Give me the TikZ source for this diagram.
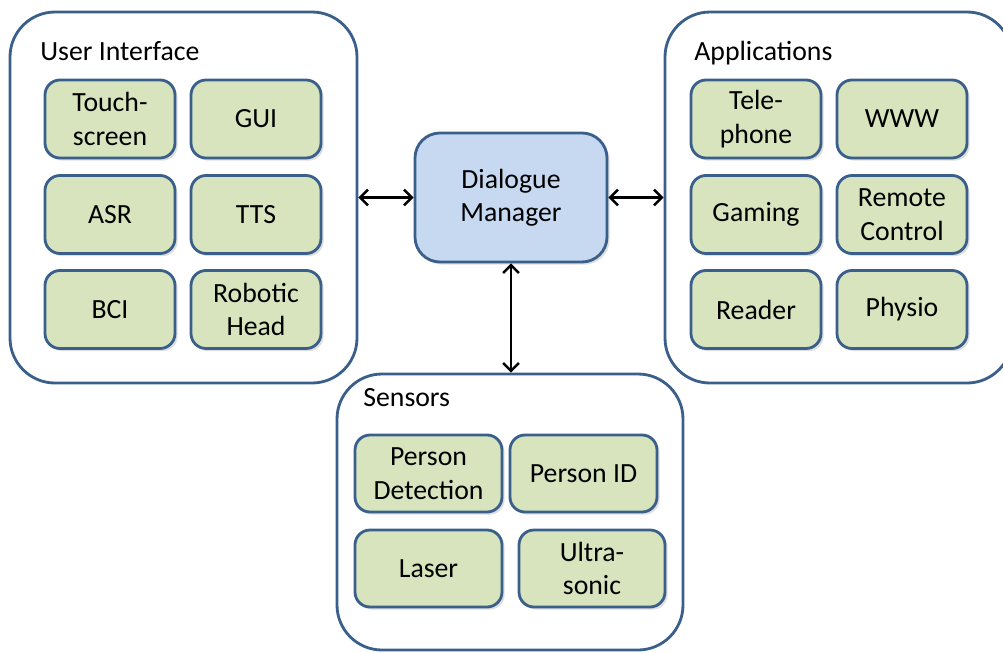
\documentclass[tikz,border=0pt]{standalone}
\usepackage{fontspec}
\setmainfont{Carlito}
\usetikzlibrary{arrows.meta,shadows}

\definecolor{frameblue}{RGB}{58,95,139}
\definecolor{itemgreen}{RGB}{215,228,189}
\definecolor{dmblue}{RGB}{198,217,241}

\begin{document}
\begin{tikzpicture}[>={Straight Barb[length=4.5pt,width=9pt]},
	outerbox/.style={draw=frameblue, line width=1.6pt, fill=white, rounded corners=0.9cm},
	itembox/.style={draw=frameblue, line width=1.6pt, fill=itemgreen, rounded corners=0.3cm,
		minimum width=2.6cm, minimum height=1.56cm, align=center, inner sep=0pt,
		font=\fontsize{15.8}{19}\selectfont,
		drop shadow={opacity=0.25, shadow xshift=1.5pt, shadow yshift=-1.5pt}},
	dmbox/.style={draw=frameblue, line width=1.6pt, fill=dmblue, rounded corners=0.5cm,
		minimum width=3.84cm, minimum height=2.58cm, align=center, inner sep=0pt,
		font=\fontsize{15.8}{19}\selectfont,
		drop shadow={opacity=0.25, shadow xshift=1.5pt, shadow yshift=-1.5pt}},
	grouptitle/.style={anchor=base west, inner sep=0pt, font=\fontsize{15.8}{19}\selectfont}]
	\useasboundingbox (0, 0) rectangle (20.06, -13.04);
	\clip (0, 0) rectangle (20.06, -13.04);
	% groups
	\node[outerbox, minimum width=6.94cm, minimum height=7.42cm] (ui) at (3.67, -3.95) {};
	\node[outerbox, minimum width=6.94cm, minimum height=7.42cm] (apps) at (16.77, -3.95) {};
	\node[outerbox, minimum width=6.92cm, minimum height=5.52cm] (sensors) at (10.2, -10.24) {};
	\node[grouptitle] (uititle) at (0.8, -1.2) {User Interface};
	\node[grouptitle] (appstitle) at (13.88, -1.2) {Applications};
	\node[grouptitle] (sensorstitle) at (7.26, -8.12) {Sensors};
	% user interface
	\node[itembox] (touch) at (2.2, -2.38) {Touch-\\screen};
	\node[itembox] (gui) at (5.12, -2.38) {GUI};
	\node[itembox] (asr) at (2.2, -4.29) {ASR};
	\node[itembox] (tts) at (5.12, -4.29) {TTS};
	\node[itembox] (bci) at (2.2, -6.19) {BCI};
	\node[itembox] (head) at (5.12, -6.19) {Robotic\\Head};
	% applications
	\node[itembox] (tele) at (15.12, -2.38) {Tele-\\phone};
	\node[itembox] (www) at (18.04, -2.38) {WWW};
	\node[itembox] (gaming) at (15.12, -4.29) {Gaming};
	\node[itembox] (remote) at (18.04, -4.29) {Remote\\Control};
	\node[itembox] (reader) at (15.12, -6.19) {Reader};
	\node[itembox] (physio) at (18.04, -6.19) {Physio};
	% sensors
	\node[itembox, minimum width=2.94cm, minimum height=1.54cm] (persondet) at (8.57, -9.47) {Person\\Detection};
	\node[itembox, minimum width=2.94cm, minimum height=1.54cm] (personid) at (11.67, -9.47) {Person ID};
	\node[itembox, minimum width=2.94cm, minimum height=1.54cm] (laser) at (8.57, -11.37) {Laser};
	\node[itembox, minimum width=2.92cm, minimum height=1.54cm] (ultra) at (11.84, -11.37) {Ultra-\\sonic};
	% dialogue manager
	\node[dmbox] (dm) at (10.22, -3.95) {Dialogue\\Manager};
	\draw[<->, line width=1.4pt] (ui.east) -- (dm.west);
	\draw[<->, line width=1.4pt] (dm.east) -- (apps.west);
	\draw[<->, line width=1.4pt] (dm.south) -- (dm.south |- sensors.north);
\end{tikzpicture}
\end{document}
